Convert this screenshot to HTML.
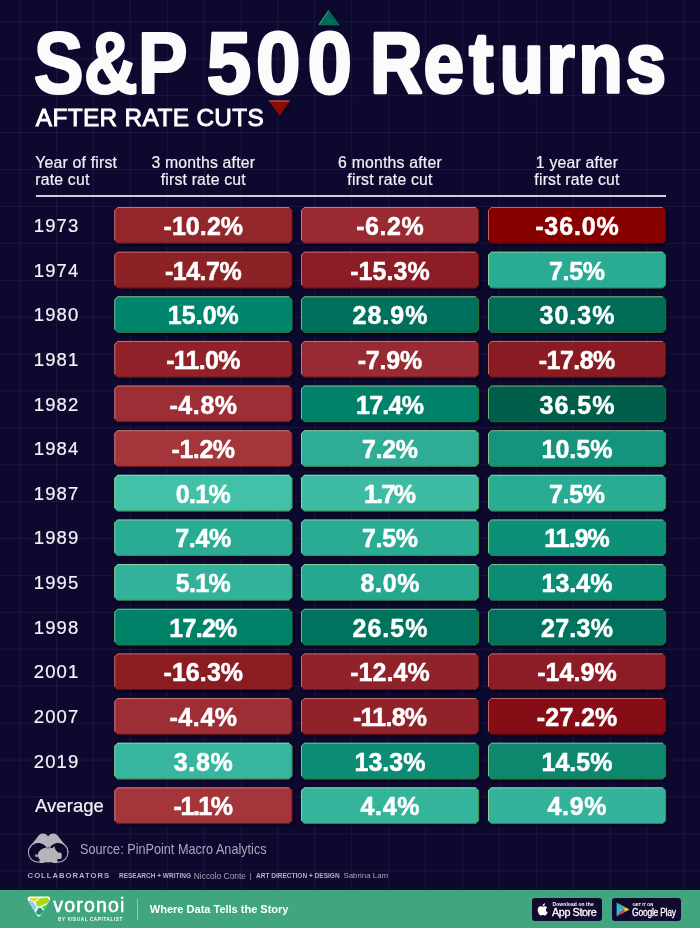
<!DOCTYPE html>
<html lang="en">
<head>
<meta charset="utf-8">
<title>S&amp;P 500 Returns After Rate Cuts</title>
<style>
*{margin:0;padding:0;box-sizing:border-box}
html,body{width:700px;height:928px;overflow:hidden;background:#0d082e}
body{position:relative;font-family:"Liberation Sans",sans-serif;color:#fff}
#grid{position:absolute;left:0;top:0;width:700px;height:928px;
background-image:linear-gradient(to right,rgba(120,115,175,.125) 1px,transparent 1px),linear-gradient(to bottom,rgba(120,115,175,.125) 1px,transparent 1px);
background-size:36.92px 36.92px;background-position:19.1px 21.4px}
.abs{position:absolute;white-space:nowrap}
#title{left:34.8px;top:0;width:631px;height:100px}
#sub{left:35.8px;top:104px;font-size:24.4px;font-weight:normal;-webkit-text-stroke:.85px #fff;letter-spacing:.35px;line-height:28px;transform-origin:0 0}
.hd{-webkit-text-stroke:.2px #f1f0f6;position:absolute;font-size:15.8px;line-height:17px;letter-spacing:.2px;color:#f1f0f6;white-space:nowrap}
.hd.c{width:178px;text-align:center}
#hline{position:absolute;left:36px;top:195.3px;width:630px;height:2px;background:#cfcfdc}
svg.boxes{position:absolute;left:0;top:0}
.v{position:absolute;width:178px;height:36.5px;line-height:38.8px;text-align:center;font-weight:bold;font-size:25px;-webkit-text-stroke:.5px #fff;}
.yr{position:absolute;left:33.8px;height:36.5px;line-height:38px;font-size:18.5px;letter-spacing:1.1px;color:#f4f3f8;-webkit-text-stroke:.2px #f4f3f8}
.yr.av{letter-spacing:.05px;left:35px}
#footer{position:absolute;left:0;top:889.6px;width:700px;height:39px;background:#41a580}
</style>
</head>
<body>
<div id="grid"></div>
<svg width="0" height="0" style="position:absolute"><defs>
<filter id="ds" x="-5%" y="-5%" width="110%" height="115%"><feDropShadow dx="1.5" dy="2" stdDeviation="1.3" flood-color="#03011a" flood-opacity=".75"/></filter>
</defs></svg>

<!-- triangles -->
<svg class="abs" style="left:0;top:0" width="700" height="130" viewBox="0 0 700 130">
<g filter="url(#ds)"><polygon points="328.5,10 339.8,25.3 318.4,25.3" fill="#066b54"/>
<polygon points="268.5,100.5 290.1,100.5 279.8,115.8" fill="#8a0a05"/></g>
<path d="M318.9 24.8L328.5 10.8" stroke="#5fbf9d" stroke-width="1" fill="none" stroke-opacity=".8"/>
<path d="M269 101H289.6" stroke="#d4857f" stroke-width="1" fill="none" stroke-opacity=".8"/>
</svg>

<svg id="title" class="abs" viewBox="0 0 631 100" style="overflow:visible">
<g font-family="Liberation Sans, sans-serif" font-weight="bold" font-size="86.5" fill="#fbfbfb" stroke="#fbfbfb" stroke-width="2.2" stroke-linejoin="round">
<text x="-1.2" y="93.3" textLength="154" lengthAdjust="spacingAndGlyphs">S&amp;P</text>
<text transform="scale(.925,1)" x="185.6 238.8 294.7" y="93.3" stroke-width="2.8">500</text>
<text transform="scale(0.85,1)" x="394.3 457.5 510.8 546.7 601.8 639.5 695.0" y="92.3" font-size="85" stroke-width="3.5">Returns</text>
</g>
</svg>

<div id="sub" class="abs">AFTER RATE CUTS</div>

<div class="hd" style="left:35.2px;top:153.6px">Year of first<br>rate cut</div>
<div class="hd c" style="left:114.3px;top:153.6px">3 months after<br>first rate cut</div>
<div class="hd c" style="left:301px;top:153.6px">6 months after<br>first rate cut</div>
<div class="hd c" style="left:488px;top:153.6px">1 year after<br>first rate cut</div>
<div id="hline"></div>

<svg class="boxes" width="700" height="928" viewBox="0 0 700 928"><g filter="url(#ds)"><polygon points="117.60,207.00 289.00,207.00 292.30,210.30 292.30,240.20 289.00,243.50 117.60,243.50 114.30,240.20 114.30,210.30" fill="#93252c"/>
<path d="M114.80 240.20V210.30L117.60 207.50H289.00" fill="none" stroke="#f0b0aa" stroke-opacity=".55" stroke-width="1"/>
<path d="M117.60 243.10H289.00L291.90 240.20V210.30" fill="none" stroke="#4a0508" stroke-opacity=".6" stroke-width=".9"/>
<polygon points="304.30,207.00 475.70,207.00 479.00,210.30 479.00,240.20 475.70,243.50 304.30,243.50 301.00,240.20 301.00,210.30" fill="#9a2c33"/>
<path d="M301.50 240.20V210.30L304.30 207.50H475.70" fill="none" stroke="#f0b0aa" stroke-opacity=".55" stroke-width="1"/>
<path d="M304.30 243.10H475.70L478.60 240.20V210.30" fill="none" stroke="#4a0508" stroke-opacity=".6" stroke-width=".9"/>
<polygon points="491.30,207.00 662.70,207.00 666.00,210.30 666.00,240.20 662.70,243.50 491.30,243.50 488.00,240.20 488.00,210.30" fill="#870003"/>
<path d="M488.50 240.20V210.30L491.30 207.50H662.70" fill="none" stroke="#f0b0aa" stroke-opacity=".55" stroke-width="1"/>
<path d="M491.30 243.10H662.70L665.60 240.20V210.30" fill="none" stroke="#4a0508" stroke-opacity=".6" stroke-width=".9"/>
<polygon points="117.60,251.64 289.00,251.64 292.30,254.94 292.30,284.84 289.00,288.14 117.60,288.14 114.30,284.84 114.30,254.94" fill="#8c2026"/>
<path d="M114.80 284.84V254.94L117.60 252.14H289.00" fill="none" stroke="#f0b0aa" stroke-opacity=".55" stroke-width="1"/>
<path d="M117.60 287.74H289.00L291.90 284.84V254.94" fill="none" stroke="#4a0508" stroke-opacity=".6" stroke-width=".9"/>
<polygon points="304.30,251.64 475.70,251.64 479.00,254.94 479.00,284.84 475.70,288.14 304.30,288.14 301.00,284.84 301.00,254.94" fill="#8c1f25"/>
<path d="M301.50 284.84V254.94L304.30 252.14H475.70" fill="none" stroke="#f0b0aa" stroke-opacity=".55" stroke-width="1"/>
<path d="M304.30 287.74H475.70L478.60 284.84V254.94" fill="none" stroke="#4a0508" stroke-opacity=".6" stroke-width=".9"/>
<polygon points="491.30,251.64 662.70,251.64 666.00,254.94 666.00,284.84 662.70,288.14 491.30,288.14 488.00,284.84 488.00,254.94" fill="#2cab94"/>
<path d="M488.50 284.84V254.94L491.30 252.14H662.70" fill="none" stroke="#d9ee9c" stroke-opacity=".55" stroke-width="1"/>
<path d="M491.30 287.74H662.70L665.60 284.84V254.94" fill="none" stroke="#4d6a12" stroke-opacity=".6" stroke-width=".9"/>
<polygon points="117.60,296.28 289.00,296.28 292.30,299.58 292.30,329.48 289.00,332.78 117.60,332.78 114.30,329.48 114.30,299.58" fill="#05856c"/>
<path d="M114.80 329.48V299.58L117.60 296.78H289.00" fill="none" stroke="#d9ee9c" stroke-opacity=".55" stroke-width="1"/>
<path d="M117.60 332.38H289.00L291.90 329.48V299.58" fill="none" stroke="#4d6a12" stroke-opacity=".6" stroke-width=".9"/>
<polygon points="304.30,296.28 475.70,296.28 479.00,299.58 479.00,329.48 475.70,332.78 304.30,332.78 301.00,329.48 301.00,299.58" fill="#016f5b"/>
<path d="M301.50 329.48V299.58L304.30 296.78H475.70" fill="none" stroke="#d9ee9c" stroke-opacity=".55" stroke-width="1"/>
<path d="M304.30 332.38H475.70L478.60 329.48V299.58" fill="none" stroke="#4d6a12" stroke-opacity=".6" stroke-width=".9"/>
<polygon points="491.30,296.28 662.70,296.28 666.00,299.58 666.00,329.48 662.70,332.78 491.30,332.78 488.00,329.48 488.00,299.58" fill="#016c58"/>
<path d="M488.50 329.48V299.58L491.30 296.78H662.70" fill="none" stroke="#d9ee9c" stroke-opacity=".55" stroke-width="1"/>
<path d="M491.30 332.38H662.70L665.60 329.48V299.58" fill="none" stroke="#4d6a12" stroke-opacity=".6" stroke-width=".9"/>
<polygon points="117.60,340.92 289.00,340.92 292.30,344.22 292.30,374.12 289.00,377.42 117.60,377.42 114.30,374.12 114.30,344.22" fill="#92242b"/>
<path d="M114.80 374.12V344.22L117.60 341.42H289.00" fill="none" stroke="#f0b0aa" stroke-opacity=".55" stroke-width="1"/>
<path d="M117.60 377.02H289.00L291.90 374.12V344.22" fill="none" stroke="#4a0508" stroke-opacity=".6" stroke-width=".9"/>
<polygon points="304.30,340.92 475.70,340.92 479.00,344.22 479.00,374.12 475.70,377.42 304.30,377.42 301.00,374.12 301.00,344.22" fill="#972930"/>
<path d="M301.50 374.12V344.22L304.30 341.42H475.70" fill="none" stroke="#f0b0aa" stroke-opacity=".55" stroke-width="1"/>
<path d="M304.30 377.02H475.70L478.60 374.12V344.22" fill="none" stroke="#4a0508" stroke-opacity=".6" stroke-width=".9"/>
<polygon points="491.30,340.92 662.70,340.92 666.00,344.22 666.00,374.12 662.70,377.42 491.30,377.42 488.00,374.12 488.00,344.22" fill="#881c22"/>
<path d="M488.50 374.12V344.22L491.30 341.42H662.70" fill="none" stroke="#f0b0aa" stroke-opacity=".55" stroke-width="1"/>
<path d="M491.30 377.02H662.70L665.60 374.12V344.22" fill="none" stroke="#4a0508" stroke-opacity=".6" stroke-width=".9"/>
<polygon points="117.60,385.56 289.00,385.56 292.30,388.86 292.30,418.76 289.00,422.06 117.60,422.06 114.30,418.76 114.30,388.86" fill="#9d2f35"/>
<path d="M114.80 418.76V388.86L117.60 386.06H289.00" fill="none" stroke="#f0b0aa" stroke-opacity=".55" stroke-width="1"/>
<path d="M117.60 421.66H289.00L291.90 418.76V388.86" fill="none" stroke="#4a0508" stroke-opacity=".6" stroke-width=".9"/>
<polygon points="304.30,385.56 475.70,385.56 479.00,388.86 479.00,418.76 475.70,422.06 304.30,422.06 301.00,418.76 301.00,388.86" fill="#048169"/>
<path d="M301.50 418.76V388.86L304.30 386.06H475.70" fill="none" stroke="#d9ee9c" stroke-opacity=".55" stroke-width="1"/>
<path d="M304.30 421.66H475.70L478.60 418.76V388.86" fill="none" stroke="#4d6a12" stroke-opacity=".6" stroke-width=".9"/>
<polygon points="491.30,385.56 662.70,385.56 666.00,388.86 666.00,418.76 662.70,422.06 491.30,422.06 488.00,418.76 488.00,388.86" fill="#015f4b"/>
<path d="M488.50 418.76V388.86L491.30 386.06H662.70" fill="none" stroke="#d9ee9c" stroke-opacity=".55" stroke-width="1"/>
<path d="M491.30 421.66H662.70L665.60 418.76V388.86" fill="none" stroke="#4d6a12" stroke-opacity=".6" stroke-width=".9"/>
<polygon points="117.60,430.20 289.00,430.20 292.30,433.50 292.30,463.40 289.00,466.70 117.60,466.70 114.30,463.40 114.30,433.50" fill="#a4353b"/>
<path d="M114.80 463.40V433.50L117.60 430.70H289.00" fill="none" stroke="#f0b0aa" stroke-opacity=".55" stroke-width="1"/>
<path d="M117.60 466.30H289.00L291.90 463.40V433.50" fill="none" stroke="#4a0508" stroke-opacity=".6" stroke-width=".9"/>
<polygon points="304.30,430.20 475.70,430.20 479.00,433.50 479.00,463.40 475.70,466.70 304.30,466.70 301.00,463.40 301.00,433.50" fill="#2dac95"/>
<path d="M301.50 463.40V433.50L304.30 430.70H475.70" fill="none" stroke="#d9ee9c" stroke-opacity=".55" stroke-width="1"/>
<path d="M304.30 466.30H475.70L478.60 463.40V433.50" fill="none" stroke="#4d6a12" stroke-opacity=".6" stroke-width=".9"/>
<polygon points="491.30,430.20 662.70,430.20 666.00,433.50 666.00,463.40 662.70,466.70 491.30,466.70 488.00,463.40 488.00,433.50" fill="#15937b"/>
<path d="M488.50 463.40V433.50L491.30 430.70H662.70" fill="none" stroke="#d9ee9c" stroke-opacity=".55" stroke-width="1"/>
<path d="M491.30 466.30H662.70L665.60 463.40V433.50" fill="none" stroke="#4d6a12" stroke-opacity=".6" stroke-width=".9"/>
<polygon points="117.60,474.84 289.00,474.84 292.30,478.14 292.30,508.04 289.00,511.34 117.60,511.34 114.30,508.04 114.30,478.14" fill="#42c0a8"/>
<path d="M114.80 508.04V478.14L117.60 475.34H289.00" fill="none" stroke="#d9ee9c" stroke-opacity=".55" stroke-width="1"/>
<path d="M117.60 510.94H289.00L291.90 508.04V478.14" fill="none" stroke="#4d6a12" stroke-opacity=".6" stroke-width=".9"/>
<polygon points="304.30,474.84 475.70,474.84 479.00,478.14 479.00,508.04 475.70,511.34 304.30,511.34 301.00,508.04 301.00,478.14" fill="#3dbba3"/>
<path d="M301.50 508.04V478.14L304.30 475.34H475.70" fill="none" stroke="#d9ee9c" stroke-opacity=".55" stroke-width="1"/>
<path d="M304.30 510.94H475.70L478.60 508.04V478.14" fill="none" stroke="#4d6a12" stroke-opacity=".6" stroke-width=".9"/>
<polygon points="491.30,474.84 662.70,474.84 666.00,478.14 666.00,508.04 662.70,511.34 491.30,511.34 488.00,508.04 488.00,478.14" fill="#2cab94"/>
<path d="M488.50 508.04V478.14L491.30 475.34H662.70" fill="none" stroke="#d9ee9c" stroke-opacity=".55" stroke-width="1"/>
<path d="M491.30 510.94H662.70L665.60 508.04V478.14" fill="none" stroke="#4d6a12" stroke-opacity=".6" stroke-width=".9"/>
<polygon points="117.60,519.48 289.00,519.48 292.30,522.78 292.30,552.68 289.00,555.98 117.60,555.98 114.30,552.68 114.30,522.78" fill="#2cab94"/>
<path d="M114.80 552.68V522.78L117.60 519.98H289.00" fill="none" stroke="#d9ee9c" stroke-opacity=".55" stroke-width="1"/>
<path d="M117.60 555.58H289.00L291.90 552.68V522.78" fill="none" stroke="#4d6a12" stroke-opacity=".6" stroke-width=".9"/>
<polygon points="304.30,519.48 475.70,519.48 479.00,522.78 479.00,552.68 475.70,555.98 304.30,555.98 301.00,552.68 301.00,522.78" fill="#2cab94"/>
<path d="M301.50 552.68V522.78L304.30 519.98H475.70" fill="none" stroke="#d9ee9c" stroke-opacity=".55" stroke-width="1"/>
<path d="M304.30 555.58H475.70L478.60 552.68V522.78" fill="none" stroke="#4d6a12" stroke-opacity=".6" stroke-width=".9"/>
<polygon points="491.30,519.48 662.70,519.48 666.00,522.78 666.00,552.68 662.70,555.98 491.30,555.98 488.00,552.68 488.00,522.78" fill="#109078"/>
<path d="M488.50 552.68V522.78L491.30 519.98H662.70" fill="none" stroke="#d9ee9c" stroke-opacity=".55" stroke-width="1"/>
<path d="M491.30 555.58H662.70L665.60 552.68V522.78" fill="none" stroke="#4d6a12" stroke-opacity=".6" stroke-width=".9"/>
<polygon points="117.60,564.12 289.00,564.12 292.30,567.42 292.30,597.32 289.00,600.62 117.60,600.62 114.30,597.32 114.30,567.42" fill="#33b29a"/>
<path d="M114.80 597.32V567.42L117.60 564.62H289.00" fill="none" stroke="#d9ee9c" stroke-opacity=".55" stroke-width="1"/>
<path d="M117.60 600.22H289.00L291.90 597.32V567.42" fill="none" stroke="#4d6a12" stroke-opacity=".6" stroke-width=".9"/>
<polygon points="304.30,564.12 475.70,564.12 479.00,567.42 479.00,597.32 475.70,600.62 304.30,600.62 301.00,597.32 301.00,567.42" fill="#28a790"/>
<path d="M301.50 597.32V567.42L304.30 564.62H475.70" fill="none" stroke="#d9ee9c" stroke-opacity=".55" stroke-width="1"/>
<path d="M304.30 600.22H475.70L478.60 597.32V567.42" fill="none" stroke="#4d6a12" stroke-opacity=".6" stroke-width=".9"/>
<polygon points="491.30,564.12 662.70,564.12 666.00,567.42 666.00,597.32 662.70,600.62 491.30,600.62 488.00,597.32 488.00,567.42" fill="#0b8c74"/>
<path d="M488.50 597.32V567.42L491.30 564.62H662.70" fill="none" stroke="#d9ee9c" stroke-opacity=".55" stroke-width="1"/>
<path d="M491.30 600.22H662.70L665.60 597.32V567.42" fill="none" stroke="#4d6a12" stroke-opacity=".6" stroke-width=".9"/>
<polygon points="117.60,608.76 289.00,608.76 292.30,612.06 292.30,641.96 289.00,645.26 117.60,645.26 114.30,641.96 114.30,612.06" fill="#048269"/>
<path d="M114.80 641.96V612.06L117.60 609.26H289.00" fill="none" stroke="#d9ee9c" stroke-opacity=".55" stroke-width="1"/>
<path d="M117.60 644.86H289.00L291.90 641.96V612.06" fill="none" stroke="#4d6a12" stroke-opacity=".6" stroke-width=".9"/>
<polygon points="304.30,608.76 475.70,608.76 479.00,612.06 479.00,641.96 475.70,645.26 304.30,645.26 301.00,641.96 301.00,612.06" fill="#02735e"/>
<path d="M301.50 641.96V612.06L304.30 609.26H475.70" fill="none" stroke="#d9ee9c" stroke-opacity=".55" stroke-width="1"/>
<path d="M304.30 644.86H475.70L478.60 641.96V612.06" fill="none" stroke="#4d6a12" stroke-opacity=".6" stroke-width=".9"/>
<polygon points="491.30,608.76 662.70,608.76 666.00,612.06 666.00,641.96 662.70,645.26 491.30,645.26 488.00,641.96 488.00,612.06" fill="#01725d"/>
<path d="M488.50 641.96V612.06L491.30 609.26H662.70" fill="none" stroke="#d9ee9c" stroke-opacity=".55" stroke-width="1"/>
<path d="M491.30 644.86H662.70L665.60 641.96V612.06" fill="none" stroke="#4d6a12" stroke-opacity=".6" stroke-width=".9"/>
<polygon points="117.60,653.40 289.00,653.40 292.30,656.70 292.30,686.60 289.00,689.90 117.60,689.90 114.30,686.60 114.30,656.70" fill="#8a1e24"/>
<path d="M114.80 686.60V656.70L117.60 653.90H289.00" fill="none" stroke="#f0b0aa" stroke-opacity=".55" stroke-width="1"/>
<path d="M117.60 689.50H289.00L291.90 686.60V656.70" fill="none" stroke="#4a0508" stroke-opacity=".6" stroke-width=".9"/>
<polygon points="304.30,653.40 475.70,653.40 479.00,656.70 479.00,686.60 475.70,689.90 304.30,689.90 301.00,686.60 301.00,656.70" fill="#902229"/>
<path d="M301.50 686.60V656.70L304.30 653.90H475.70" fill="none" stroke="#f0b0aa" stroke-opacity=".55" stroke-width="1"/>
<path d="M304.30 689.50H475.70L478.60 686.60V656.70" fill="none" stroke="#4a0508" stroke-opacity=".6" stroke-width=".9"/>
<polygon points="491.30,653.40 662.70,653.40 666.00,656.70 666.00,686.60 662.70,689.90 491.30,689.90 488.00,686.60 488.00,656.70" fill="#8c1f26"/>
<path d="M488.50 686.60V656.70L491.30 653.90H662.70" fill="none" stroke="#f0b0aa" stroke-opacity=".55" stroke-width="1"/>
<path d="M491.30 689.50H662.70L665.60 686.60V656.70" fill="none" stroke="#4a0508" stroke-opacity=".6" stroke-width=".9"/>
<polygon points="117.60,698.04 289.00,698.04 292.30,701.34 292.30,731.24 289.00,734.54 117.60,734.54 114.30,731.24 114.30,701.34" fill="#9e2f36"/>
<path d="M114.80 731.24V701.34L117.60 698.54H289.00" fill="none" stroke="#f0b0aa" stroke-opacity=".55" stroke-width="1"/>
<path d="M117.60 734.14H289.00L291.90 731.24V701.34" fill="none" stroke="#4a0508" stroke-opacity=".6" stroke-width=".9"/>
<polygon points="304.30,698.04 475.70,698.04 479.00,701.34 479.00,731.24 475.70,734.54 304.30,734.54 301.00,731.24 301.00,701.34" fill="#91232a"/>
<path d="M301.50 731.24V701.34L304.30 698.54H475.70" fill="none" stroke="#f0b0aa" stroke-opacity=".55" stroke-width="1"/>
<path d="M304.30 734.14H475.70L478.60 731.24V701.34" fill="none" stroke="#4a0508" stroke-opacity=".6" stroke-width=".9"/>
<polygon points="491.30,698.04 662.70,698.04 666.00,701.34 666.00,731.24 662.70,734.54 491.30,734.54 488.00,731.24 488.00,701.34" fill="#860d12"/>
<path d="M488.50 731.24V701.34L491.30 698.54H662.70" fill="none" stroke="#f0b0aa" stroke-opacity=".55" stroke-width="1"/>
<path d="M491.30 734.14H662.70L665.60 731.24V701.34" fill="none" stroke="#4a0508" stroke-opacity=".6" stroke-width=".9"/>
<polygon points="117.60,742.68 289.00,742.68 292.30,745.98 292.30,775.88 289.00,779.18 117.60,779.18 114.30,775.88 114.30,745.98" fill="#37b59e"/>
<path d="M114.80 775.88V745.98L117.60 743.18H289.00" fill="none" stroke="#d9ee9c" stroke-opacity=".55" stroke-width="1"/>
<path d="M117.60 778.78H289.00L291.90 775.88V745.98" fill="none" stroke="#4d6a12" stroke-opacity=".6" stroke-width=".9"/>
<polygon points="304.30,742.68 475.70,742.68 479.00,745.98 479.00,775.88 475.70,779.18 304.30,779.18 301.00,775.88 301.00,745.98" fill="#0b8c74"/>
<path d="M301.50 775.88V745.98L304.30 743.18H475.70" fill="none" stroke="#d9ee9c" stroke-opacity=".55" stroke-width="1"/>
<path d="M304.30 778.78H475.70L478.60 775.88V745.98" fill="none" stroke="#4d6a12" stroke-opacity=".6" stroke-width=".9"/>
<polygon points="491.30,742.68 662.70,742.68 666.00,745.98 666.00,775.88 662.70,779.18 491.30,779.18 488.00,775.88 488.00,745.98" fill="#07876e"/>
<path d="M488.50 775.88V745.98L491.30 743.18H662.70" fill="none" stroke="#d9ee9c" stroke-opacity=".55" stroke-width="1"/>
<path d="M491.30 778.78H662.70L665.60 775.88V745.98" fill="none" stroke="#4d6a12" stroke-opacity=".6" stroke-width=".9"/>
<polygon points="117.60,787.32 289.00,787.32 292.30,790.62 292.30,820.52 289.00,823.82 117.60,823.82 114.30,820.52 114.30,790.62" fill="#a4353b"/>
<path d="M114.80 820.52V790.62L117.60 787.82H289.00" fill="none" stroke="#f0b0aa" stroke-opacity=".55" stroke-width="1"/>
<path d="M117.60 823.42H289.00L291.90 820.52V790.62" fill="none" stroke="#4a0508" stroke-opacity=".6" stroke-width=".9"/>
<polygon points="304.30,787.32 475.70,787.32 479.00,790.62 479.00,820.52 475.70,823.82 304.30,823.82 301.00,820.52 301.00,790.62" fill="#35b49c"/>
<path d="M301.50 820.52V790.62L304.30 787.82H475.70" fill="none" stroke="#d9ee9c" stroke-opacity=".55" stroke-width="1"/>
<path d="M304.30 823.42H475.70L478.60 820.52V790.62" fill="none" stroke="#4d6a12" stroke-opacity=".6" stroke-width=".9"/>
<polygon points="491.30,787.32 662.70,787.32 666.00,790.62 666.00,820.52 662.70,823.82 491.30,823.82 488.00,820.52 488.00,790.62" fill="#34b29b"/>
<path d="M488.50 820.52V790.62L491.30 787.82H662.70" fill="none" stroke="#d9ee9c" stroke-opacity=".55" stroke-width="1"/>
<path d="M491.30 823.42H662.70L665.60 820.52V790.62" fill="none" stroke="#4d6a12" stroke-opacity=".6" stroke-width=".9"/></g></svg>
<div class="v" style="left:114.3px;top:207.00px;letter-spacing:0.08px;text-indent:0.08px">-10.2%</div>
<div class="v" style="left:301.0px;top:207.00px;letter-spacing:0.58px;text-indent:0.58px">-6.2%</div>
<div class="v" style="left:488.0px;top:207.00px;letter-spacing:0.89px;text-indent:0.89px">-36.0%</div>
<div class="yr" style="top:207.00px">1973</div>
<div class="v" style="left:114.3px;top:251.64px;letter-spacing:-0.51px;text-indent:-0.51px">-14.7%</div>
<div class="v" style="left:301.0px;top:251.64px;letter-spacing:0.08px;text-indent:0.08px">-15.3%</div>
<div class="v" style="left:488.0px;top:251.64px;letter-spacing:-0.31px;text-indent:-0.31px">7.5%</div>
<div class="yr" style="top:251.64px">1974</div>
<div class="v" style="left:114.3px;top:296.28px;letter-spacing:0.04px;text-indent:0.04px">15.0%</div>
<div class="v" style="left:301.0px;top:296.28px;letter-spacing:1.05px;text-indent:1.05px">28.9%</div>
<div class="v" style="left:488.0px;top:296.28px;letter-spacing:1.05px;text-indent:1.05px">30.3%</div>
<div class="yr" style="top:296.28px">1980</div>
<div class="v" style="left:114.3px;top:340.92px;letter-spacing:-0.73px;text-indent:-0.73px">-11.0%</div>
<div class="v" style="left:301.0px;top:340.92px;letter-spacing:-0.17px;text-indent:-0.17px">-7.9%</div>
<div class="v" style="left:488.0px;top:340.92px;letter-spacing:-0.51px;text-indent:-0.51px">-17.8%</div>
<div class="yr" style="top:340.92px">1981</div>
<div class="v" style="left:114.3px;top:385.56px;letter-spacing:0.58px;text-indent:0.58px">-4.8%</div>
<div class="v" style="left:301.0px;top:385.56px;letter-spacing:-0.71px;text-indent:-0.71px">17.4%</div>
<div class="v" style="left:488.0px;top:385.56px;letter-spacing:1.05px;text-indent:1.05px">36.5%</div>
<div class="yr" style="top:385.56px">1982</div>
<div class="v" style="left:114.3px;top:430.20px;letter-spacing:-0.43px;text-indent:-0.43px">-1.2%</div>
<div class="v" style="left:301.0px;top:430.20px;letter-spacing:-0.31px;text-indent:-0.31px">7.2%</div>
<div class="v" style="left:488.0px;top:430.20px;letter-spacing:0.04px;text-indent:0.04px">10.5%</div>
<div class="yr" style="top:430.20px">1984</div>
<div class="v" style="left:114.3px;top:474.84px;letter-spacing:-0.67px;text-indent:-0.67px">0.1%</div>
<div class="v" style="left:301.0px;top:474.84px;letter-spacing:-1.66px;text-indent:-1.66px">1.7%</div>
<div class="v" style="left:488.0px;top:474.84px;letter-spacing:-0.31px;text-indent:-0.31px">7.5%</div>
<div class="yr" style="top:474.84px">1987</div>
<div class="v" style="left:114.3px;top:519.48px;letter-spacing:-0.31px;text-indent:-0.31px">7.4%</div>
<div class="v" style="left:301.0px;top:519.48px;letter-spacing:-0.31px;text-indent:-0.31px">7.5%</div>
<div class="v" style="left:488.0px;top:519.48px;letter-spacing:-0.98px;text-indent:-0.98px">11.9%</div>
<div class="yr" style="top:519.48px">1989</div>
<div class="v" style="left:114.3px;top:564.12px;letter-spacing:-0.67px;text-indent:-0.67px">5.1%</div>
<div class="v" style="left:301.0px;top:564.12px;letter-spacing:0.68px;text-indent:0.68px">8.0%</div>
<div class="v" style="left:488.0px;top:564.12px;letter-spacing:0.04px;text-indent:0.04px">13.4%</div>
<div class="yr" style="top:564.12px">1995</div>
<div class="v" style="left:114.3px;top:608.76px;letter-spacing:-0.71px;text-indent:-0.71px">17.2%</div>
<div class="v" style="left:301.0px;top:608.76px;letter-spacing:1.05px;text-indent:1.05px">26.5%</div>
<div class="v" style="left:488.0px;top:608.76px;letter-spacing:0.30px;text-indent:0.30px">27.3%</div>
<div class="yr" style="top:608.76px">1998</div>
<div class="v" style="left:114.3px;top:653.40px;letter-spacing:0.08px;text-indent:0.08px">-16.3%</div>
<div class="v" style="left:301.0px;top:653.40px;letter-spacing:0.08px;text-indent:0.08px">-12.4%</div>
<div class="v" style="left:488.0px;top:653.40px;letter-spacing:0.08px;text-indent:0.08px">-14.9%</div>
<div class="yr" style="top:653.40px">2001</div>
<div class="v" style="left:114.3px;top:698.04px;letter-spacing:0.58px;text-indent:0.58px">-4.4%</div>
<div class="v" style="left:301.0px;top:698.04px;letter-spacing:-0.73px;text-indent:-0.73px">-11.8%</div>
<div class="v" style="left:488.0px;top:698.04px;letter-spacing:0.30px;text-indent:0.30px">-27.2%</div>
<div class="yr" style="top:698.04px">2007</div>
<div class="v" style="left:114.3px;top:742.68px;letter-spacing:0.68px;text-indent:0.68px">3.8%</div>
<div class="v" style="left:301.0px;top:742.68px;letter-spacing:0.04px;text-indent:0.04px">13.3%</div>
<div class="v" style="left:488.0px;top:742.68px;letter-spacing:0.04px;text-indent:0.04px">14.5%</div>
<div class="yr" style="top:742.68px">2019</div>
<div class="v" style="left:114.3px;top:787.32px;letter-spacing:-1.45px;text-indent:-1.45px">-1.1%</div>
<div class="v" style="left:301.0px;top:787.32px;letter-spacing:0.68px;text-indent:0.68px">4.4%</div>
<div class="v" style="left:488.0px;top:787.32px;letter-spacing:0.68px;text-indent:0.68px">4.9%</div>
<div class="yr av" style="top:787.32px">Average</div>

<!-- source -->
<svg class="abs" style="left:20px;top:825px" width="60" height="45" viewBox="0 0 700 525">
<path d="M92 318 Q96 270 130 235 L222 116 Q262 88 302 108 L328 130 L354 108 Q394 88 434 116 L528 235 Q562 270 566 318 L443 318 L328 250 L215 318Z" fill="#b4b4ba"/>
<circle cx="215" cy="318" r="111" fill="#0d082e"/>
<circle cx="443" cy="318" r="111" fill="#0d082e"/>
<circle cx="215" cy="318" r="117" fill="none" stroke="#b4b4ba" stroke-width="12"/>
<circle cx="443" cy="318" r="117" fill="none" stroke="#b4b4ba" stroke-width="12"/>
<path d="M328 130 L300 200 L328 248 L356 200Z" fill="#b4b4ba"/>
<g fill="#b4b4ba">
<ellipse cx="328" cy="350" rx="122" ry="88"/>
<rect x="420" y="322" width="66" height="76" rx="22"/>
<path d="M372 275 L402 248 L414 292Z"/>
<rect x="228" y="395" width="62" height="48" rx="14"/>
<rect x="372" y="395" width="66" height="48" rx="14"/>
<path d="M212 352 L180 340 L172 352 L186 362 L176 376 L190 372 L214 368Z"/>
</g>
<rect x="296" y="266" width="52" height="9" rx="4" fill="#6d6a86"/>
</svg>
<div class="abs" id="src" style="left:80px;top:839.5px;font-size:13.9px;line-height:18px;color:#a9a8bd;letter-spacing:0;transform-origin:0 0;transform:scaleX(.912)">Source: PinPoint Macro Analytics</div>

<div class="abs" id="collab" style="left:27.6px;top:871px;font-size:7.7px;line-height:10px;font-weight:bold;color:#b3b2c4;letter-spacing:.98px">COLLABORATORS</div>
<div class="abs" id="rw" style="left:118.5px;top:871px;font-size:7.6px;line-height:10px;font-weight:bold;color:#b3b2c4;transform-origin:0 0;transform:scaleX(.855)">RESEARCH + WRITING</div>
<div class="abs" id="nc" style="left:193.8px;top:871px;font-size:8.4px;line-height:10px;color:#a3a2b6">Niccolo Conte</div>
<div class="abs" style="left:249.6px;top:870.6px;font-size:7.6px;line-height:10px;color:#a3a2b6">|</div>
<div class="abs" id="ad" style="left:255.7px;top:871px;font-size:7.6px;line-height:10px;font-weight:bold;color:#b3b2c4;transform-origin:0 0;transform:scaleX(.86)">ART DIRECTION + DESIGN</div>
<div class="abs" id="sl" style="left:343.4px;top:871px;font-size:7.9px;line-height:10px;color:#a3a2b6">Sabrina Lam</div>

<div id="footer">
<!-- voronoi logo -->
<svg class="abs" style="left:22px;top:2.4px" width="36" height="30" viewBox="0 0 700 583">
<polygon points="150,132 505,132 327,432" fill="#fff" stroke="#fff" stroke-width="86" stroke-linejoin="round"/>
<g stroke-width="16" stroke-linejoin="round">
<polygon points="158,126 316,120 240,178 166,146" fill="#f2cf1e" stroke="#f2cf1e"/>
<polygon points="137,170 226,206 280,298 240,358" fill="#8fd0ee" stroke="#8fd0ee"/>
<polygon points="270,198 352,126 494,116 526,160 503,208 306,280" fill="#a8d916" stroke="#a8d916"/>
<polygon points="397,292 490,247 432,333" fill="#4fcf52" stroke="#4fcf52"/>
<polygon points="318,320 360,310 408,362 366,430 306,438 277,398" fill="#189a78" stroke="#189a78"/>
</g>
</svg>
<div class="abs" id="vor" style="left:53.2px;top:3.4px;font-size:19.5px;line-height:24px;letter-spacing:1.2px;color:#fff;-webkit-text-stroke:.55px #fff">voronoi</div>
<div class="abs" id="byvc" style="left:58px;top:27px;font-size:4.6px;line-height:6px;font-weight:bold;letter-spacing:.63px;color:#fff">BY VISUAL CAPITALIST</div>
<div class="abs" style="left:137px;top:9.4px;width:1px;height:20.6px;background:#86cdb3"></div>
<div class="abs" id="tag" style="left:149.8px;top:12.6px;font-size:11.1px;line-height:14px;font-weight:bold;letter-spacing:-.04px;color:#fff">Where Data Tells the Story</div>

<!-- App Store badge -->
<div class="abs" style="left:532px;top:8.2px;width:69.5px;height:23.2px;border-radius:3.2px;background:#0f0a2e"></div>
<svg class="abs" style="left:537px;top:12px" width="12" height="15" viewBox="0 0 12 15">
<path d="M8.900 7.700c0-1.500 1.200-2.200 1.300-2.300-.7-1-1.800-1.200-2.200-1.200-.9-.1-1.800.6-2.300.6s-1.200-.5-2-.5C2.700 4.300 1.700 4.900 1.200 5.800c-1.100 1.900-.3 4.700.8 6.200.5.700 1.100 1.600 1.900 1.500.8 0 1.100-.5 2-.5s1.200.5 2 .5 1.400-.7 1.900-1.500c.6-.9.800-1.700.9-1.700 0 0-1.800-.7-1.800-2.600zM7.400 3.200c.4-.5.700-1.200.6-1.900-.6 0-1.300.4-1.800.9-.4.400-.700 1.100-.6 1.800.700.100 1.400-.300 1.800-.800z" fill="#fff"/>
</svg>
<div class="abs" id="dl" style="left:552.6px;top:12.2px;font-size:4.9px;line-height:6px;font-weight:bold;color:#fff;letter-spacing:.12px">Download on the</div>
<div class="abs" id="as" style="left:552px;top:16.6px;font-size:10.8px;line-height:13px;color:#fff;-webkit-text-stroke:.3px #fff;letter-spacing:-.4px">App Store</div>

<!-- Google Play badge -->
<div class="abs" style="left:612px;top:8.2px;width:68.8px;height:23.2px;border-radius:3.2px;background:#0f0a2e"></div>
<svg class="abs" style="left:616px;top:12px" width="14" height="15" viewBox="0 0 14 15">
<polygon points="0.6,0.6 0.6,14.400 7.300,7.500" fill="#35b6e8"/>
<polygon points="0.6,0.6 7.300,7.500 9.600,5.200" fill="#3fcf7a"/>
<polygon points="0.6,14.400 7.300,7.500 9.600,9.800" fill="#ea4453"/>
<polygon points="9.600,5.200 13.400,7.500 9.600,9.800 7.300,7.500" fill="#f9c434"/>
</svg>
<div class="abs" id="gi" style="left:632.4px;top:12.200px;font-size:4.2px;line-height:6px;font-weight:bold;color:#fff;letter-spacing:0">GET IT ON</div>
<div class="abs" id="gp" style="left:632.2px;top:16.600px;font-size:10.6px;line-height:13px;color:#fff;-webkit-text-stroke:.3px #fff;letter-spacing:-.3px;transform-origin:0 0;transform:scaleX(.805)">Google Play</div>
</div>
</body>
</html>
